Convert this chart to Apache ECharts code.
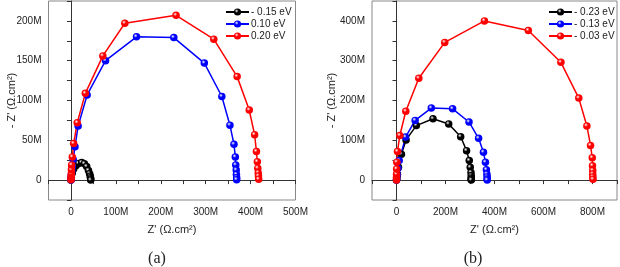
<!DOCTYPE html>
<html>
<head>
<meta charset="utf-8">
<script src="https://cdn.jsdelivr.net/npm/echarts@6/dist/echarts.min.js"></script>
<style>
html,body{margin:0;padding:0;background:#fff;}
#chart{width:620px;height:267px;}
</style>
</head>
<body>
<div id="chart"></div>
<script>
// Panel (a) values in M (Ω.cm²)
var aNames = ['- 0.15 eV', '0.10 eV', '0.20 eV'];
var aBlackX = [0, 1, 3, 6, 11, 17, 24, 30, 35, 39, 41.5, 43, 43.5, 44, 44];
var aBlackY = [0, 4, 9, 14, 18, 21, 22, 20.5, 17, 12, 8, 5, 3, 1.5, 0];
var aBlueX = [0, 0.3, 0.6, 1, 1.8, 3, 5, 9, 16, 36, 77, 146, 229, 297, 336, 354, 363, 366, 367, 368, 368.5, 369, 369];
var aBlueY = [0, 2, 4, 7, 11, 17, 26, 42, 68, 107, 150, 180, 179, 147, 105, 69, 45, 29, 19, 12.6, 7, 3, 0.5];
var aRedX = [0, 0.3, 0.5, 0.8, 1, 1.5, 3, 6, 14, 32, 71, 120, 234, 318, 370, 397, 409, 413, 415, 416, 417, 417.5, 418];
var aRedY = [0.5, 2.5, 5, 8, 13, 19, 29, 46, 72, 109, 156, 197, 207, 177, 130, 88, 57, 36, 23, 15, 9, 5, 1];

// Panel (b) values in M (Ω.cm²)
var bNames = ['- 0.23 eV', '- 0.13 eV', '- 0.03 eV'];
var bBlackX = [0, 2, 4, 8, 20, 39, 81, 149, 213, 262, 286, 297, 301, 304, 305, 305, 305, 305];
var bBlackY = [0, 6, 15, 32, 65, 101, 137, 154, 141, 109, 74, 49, 32, 19, 11, 5, 2, 0];
var bBlueX = [0, 1, 3, 6, 11, 37, 76, 142, 229, 296, 335, 355, 363, 367, 369, 370, 370, 370];
var bBlueY = [0, 6, 15, 30, 49, 108, 150, 181, 179, 146, 105, 70, 45, 26, 15, 8, 3, 0];
var bRedX = [0, 0, 0.3, 0.6, 1.4, 4, 13.5, 38, 91, 197, 359, 538, 671, 744, 777, 792, 799, 800, 801, 801, 801.5, 802];
var bRedY = [0, 7, 15, 28, 45, 72, 112, 173, 256, 346, 400, 376, 296, 206, 136, 87, 56, 36, 24, 15, 8, 2];

var colors = ['#000000', '#0000ff', '#ff0000'];
var xTitle = "Z' (\u03A9.cm\u00B2)";
var yTitle = "- Z' (\u03A9.cm\u00B2)";

function zip(xs, ys) { return xs.map(function (x, i) { return [x, ys[i]]; }); }
function ball(c) {
  return { type: 'radial', x: 0.38, y: 0.35, r: 0.65,
    colorStops: [{ offset: 0, color: '#ffffff' }, { offset: 0.4, color: c }, { offset: 1, color: c }] };
}
function mkSeries(name, xs, ys, c, idx) {
  return {
    type: 'line', name: name, data: zip(xs, ys), xAxisIndex: idx, yAxisIndex: idx,
    symbol: 'circle', symbolSize: 7.5, showSymbol: true,
    lineStyle: { color: c, width: 1.5 },
    itemStyle: { color: ball(c) },
    animation: false
  };
}
function fmt(step) {
  return function (v) {
    if (Math.abs(v % step) > 1e-6) return '';
    return v === 0 ? '0' : v + 'M';
  };
}
var font = 'Liberation Sans, Arial, sans-serif';
function xAx(idx, min, max, interval, step) {
  return {
    type: 'value', gridIndex: idx, min: min, max: max, interval: interval,
    axisLine: { show: true, lineStyle: { color: '#333', width: 1 } },
    axisTick: { show: true, length: 4, lineStyle: { color: '#333' } },
    axisLabel: { formatter: fmt(step), fontSize: 10, color: '#222', fontFamily: font, margin: 7, showMinLabel: true, showMaxLabel: true },
    splitLine: { show: false },
    name: xTitle, nameLocation: 'middle', nameGap: 24, nameMoveOverlap: false,
    nameTextStyle: { fontSize: 11, color: '#222', fontFamily: font }
  };
}
function yAx(idx, min, max, interval, step, gap) {
  return {
    type: 'value', gridIndex: idx, min: min, max: max, interval: interval,
    axisLine: { show: true, lineStyle: { color: '#333', width: 1 } },
    axisTick: { show: true, length: 4, lineStyle: { color: '#333' } },
    axisLabel: { formatter: fmt(step), fontSize: 10, color: '#222', fontFamily: font, margin: 7 },
    splitLine: { show: false },
    name: yTitle, nameLocation: 'middle', nameGap: gap, nameMoveOverlap: false,
    nameTextStyle: { fontSize: 11, color: '#222', fontFamily: font }
  };
}
function legend(names, left) {
  return {
    data: names, left: left, top: 7, orient: 'vertical', padding: 0,
    itemWidth: 23, itemHeight: 9, itemGap: 2,
    textStyle: { fontSize: 10, color: '#222', fontFamily: font, padding: [0, 0, 0, -3] }
  };
}

var chart = echarts.init(document.getElementById('chart'), null, { renderer: 'canvas' });
chart.setOption({
  backgroundColor: '#fff',
  animation: false,
  grid: [
    { left: 48.5, top: 1, width: 247, height: 199, show: true, borderColor: '#888', borderWidth: 1 },
    { left: 372, top: 1, width: 245, height: 199, show: true, borderColor: '#888', borderWidth: 1 }
  ],
  xAxis: [xAx(0, -50, 500, 50, 100), xAx(1, -100, 900, 100, 200)],
  yAxis: [yAx(0, -25, 225, 25, 50, 31), yAx(1, -50, 450, 50, 100, 35)],
  legend: [legend(aNames, 225), legend(bNames, 548)],
  title: [
    { text: '(a)', left: 152, top: 246, textAlign: 'center',
      textStyle: { fontSize: 16, fontWeight: 'normal', color: '#222', fontFamily: 'Liberation Serif, Times New Roman, serif' } },
    { text: '(b)', left: 468, top: 246, textAlign: 'center',
      textStyle: { fontSize: 16, fontWeight: 'normal', color: '#222', fontFamily: 'Liberation Serif, Times New Roman, serif' } }
  ],
  series: [
    mkSeries(aNames[0], aBlackX, aBlackY, colors[0], 0),
    mkSeries(aNames[1], aBlueX, aBlueY, colors[1], 0),
    mkSeries(aNames[2], aRedX, aRedY, colors[2], 0),
    mkSeries(bNames[0], bBlackX, bBlackY, colors[0], 1),
    mkSeries(bNames[1], bBlueX, bBlueY, colors[1], 1),
    mkSeries(bNames[2], bRedX, bRedY, colors[2], 1)
  ]
});
</script>
</body>
</html>
